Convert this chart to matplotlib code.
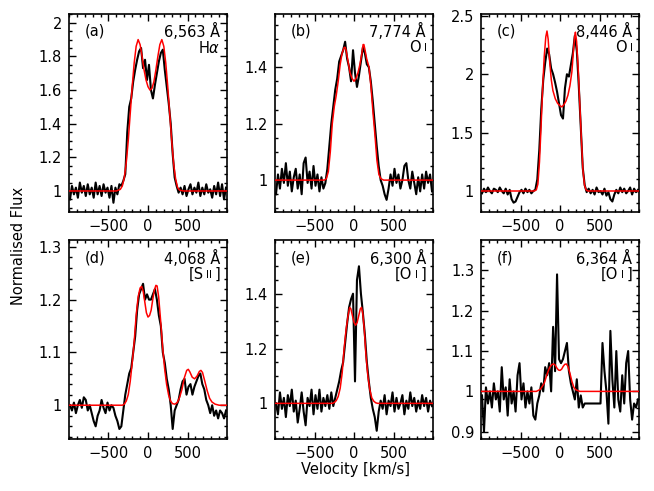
import numpy as np
import matplotlib
matplotlib.use('Agg')
import matplotlib.pyplot as plt
from matplotlib.ticker import MultipleLocator, FuncFormatter
from matplotlib.offsetbox import AnchoredOffsetbox, HPacker, TextArea

# velocity of the observed spectral points (km/s)
vel = np.arange(-987.5, 1000, 25)

# observed spectra (normalised flux), one value per point
obs_a = [0.95, 1.03, 0.98, 1.02, 0.96, 1.05, 0.99, 1.03, 0.97, 1.04,
         0.98, 1.02, 0.96, 1.05, 0.98, 1.03, 0.97, 1.04, 0.99, 1.02,
         0.96, 1.03, 0.93, 1.02, 0.98, 1.04, 1.03, 1.06, 1.10, 1.35,
         1.50, 1.55, 1.65, 1.72, 1.78, 1.83, 1.85, 1.73, 1.78, 1.66,
         1.75, 1.60, 1.55, 1.63, 1.70, 1.77, 1.82, 1.84, 1.72, 1.62,
         1.52, 1.40, 1.22, 1.08, 1.03, 0.99, 1.02, 0.98, 1.03, 0.97,
         1.01, 1.04, 0.98, 1.02, 0.99, 1.05, 0.97, 1.02, 0.98, 1.04,
         0.99, 1.01, 0.96, 1.03, 0.98, 1.05, 0.97, 1.04, 0.95, 1.02]
obs_b = [0.95, 1.02, 0.97, 1.04, 0.99, 1.06, 0.98, 1.03, 0.96, 1.01,
         1.04, 0.97, 1.02, 0.95, 1.06, 1.08, 0.99, 1.03, 0.97, 1.05,
         0.98, 1.02, 0.96, 1.01, 0.97, 0.99, 1.04, 1.12, 1.20, 1.26,
         1.32, 1.36, 1.42, 1.44, 1.46, 1.49, 1.43, 1.40, 1.35, 1.46,
         1.38, 1.33, 1.37, 1.42, 1.47, 1.45, 1.41, 1.40, 1.35, 1.28,
         1.20, 1.12, 1.05, 1.00, 0.98, 0.95, 0.93, 0.97, 1.02, 0.98,
         1.04, 0.99, 1.02, 0.97, 1.00, 1.05, 1.06, 1.00, 0.97, 1.03,
         0.99, 0.95, 1.01, 0.96, 1.02, 0.97, 1.03, 0.99, 1.02, 0.96]
obs_c = [0.98, 1.02, 0.99, 1.03, 1.00, 0.98, 1.02, 1.01, 0.99, 1.03,
         1.00, 0.98, 1.02, 0.97, 1.01, 0.93, 0.90, 0.91, 0.95, 0.99,
         1.01, 0.98, 1.02, 0.99, 1.01, 0.98, 1.00, 1.01, 1.10, 1.35,
         1.70, 1.95, 2.10, 2.22, 2.17, 2.05, 2.00, 1.93, 1.85, 1.75,
         1.65, 1.62, 1.88, 2.00, 1.98, 2.08, 2.18, 2.33, 2.20, 1.90,
         1.55, 1.20, 1.05, 0.99, 1.02, 0.98, 1.01, 0.97, 1.03, 0.99,
         1.00, 0.97, 1.02, 0.96, 0.99, 0.93, 0.91, 0.97, 1.01, 0.98,
         1.03, 0.99, 1.02, 0.98, 1.00, 1.03, 0.97, 1.02, 0.99, 1.01]
obs_d = [1.000, 0.990, 1.005, 0.985, 1.000, 1.010, 0.995, 1.015, 1.010, 0.990,
         1.000, 0.985, 0.970, 0.960, 0.980, 0.990, 1.010, 0.995, 0.985, 1.005,
         0.990, 1.000, 0.995, 0.980, 0.970, 0.955, 0.960, 0.990, 1.020, 1.040,
         1.060, 1.070, 1.100, 1.130, 1.180, 1.210, 1.220, 1.230, 1.200, 1.210,
         1.200, 1.200, 1.210, 1.220, 1.200, 1.170, 1.150, 1.100, 1.080, 1.050,
         1.030, 1.000, 0.955, 0.990, 1.000, 1.010, 1.030, 1.045, 1.050, 1.020,
         1.035, 1.040, 1.020, 1.035, 1.045, 1.055, 1.060, 1.040, 1.030, 1.010,
         1.000, 0.985, 1.000, 0.980, 0.990, 0.975, 0.990, 0.985, 0.975, 0.990]
obs_e = [1.00, 0.96, 1.04, 0.98, 1.02, 0.95, 1.03, 0.99, 1.05, 0.97,
         1.01, 0.93, 0.98, 1.04, 0.97, 0.92, 1.02, 0.99, 1.05, 0.96,
         1.03, 0.98, 1.05, 0.97, 1.02, 0.99, 1.03, 0.98, 1.04, 0.99,
         1.02, 1.05, 1.08, 1.12, 1.15, 1.22, 1.29, 1.35, 1.38, 1.40,
         1.08, 1.45, 1.50, 1.40, 1.33, 1.25, 1.15, 1.08, 1.02, 0.98,
         0.95, 0.90, 0.97, 1.01, 0.98, 1.03, 0.96, 1.01, 0.99, 1.04,
         0.97, 1.02, 0.98, 1.00, 1.03, 0.96, 1.01, 0.98, 1.04, 0.99,
         1.02, 0.97, 1.01, 0.98, 1.03, 0.99, 1.02, 0.97, 1.01, 0.99]
obs_f = [0.99, 0.90, 1.01, 0.97, 1.00, 0.96, 1.02, 0.98, 1.00, 0.95,
         1.06, 0.98, 1.01, 0.94, 1.03, 0.97, 1.00, 0.95, 1.04, 1.07,
         0.98, 1.02, 0.96, 1.00, 0.97, 1.01, 0.94, 0.93, 0.97, 0.99,
         1.02, 1.00, 1.06, 1.04, 1.07, 1.00, 1.16, 1.05, 1.29, 1.08,
         1.07, 1.08, 1.10, 1.12, 1.05, 1.02, 1.00, 0.98, 1.03, 0.96,
         0.99, 0.96, 0.97, 0.97, 0.97, 0.97, 0.97, 0.97, 0.97, 0.97,
         0.97, 1.12, 1.05, 1.00, 0.92, 1.15, 1.03, 0.96, 1.10, 0.98,
         0.95, 1.04, 0.97, 1.07, 1.10, 0.98, 0.93, 0.97, 0.96, 0.98]

# model fits (velocity, flux)
fit_va = [-1000, -400, -350, -325, -300, -275, -250, -225, -200, -175, -150, -125, -100,
          -75, -50, -25, 0, 25, 50, 75, 100, 125, 150, 175, 200, 225, 250, 275, 300,
          325, 350, 375, 400, 450, 1000]
fit_fa = [1.0, 1.0, 1.01, 1.03, 1.08, 1.17, 1.30, 1.46, 1.62, 1.76, 1.86, 1.90, 1.87,
          1.80, 1.72, 1.66, 1.62, 1.60, 1.61, 1.65, 1.72, 1.80, 1.87, 1.90, 1.86, 1.76,
          1.62, 1.46, 1.30, 1.16, 1.07, 1.02, 1.005, 1.0, 1.0]
fit_vb = [-1000, -375, -350, -325, -300, -275, -250, -225, -200, -175, -150, -125, -110,
          -100, -75, -50, -25, 0, 25, 50, 75, 100, 115, 125, 140, 160, 190, 215, 240,
          265, 290, 315, 340, 375, 1000]
fit_fb = [1.0, 1.0, 1.005, 1.03, 1.10, 1.20, 1.26, 1.30, 1.35, 1.41, 1.45, 1.47, 1.47,
          1.46, 1.42, 1.38, 1.36, 1.35, 1.36, 1.38, 1.41, 1.45, 1.48, 1.48, 1.46, 1.43,
          1.40, 1.33, 1.24, 1.16, 1.07, 1.02, 1.005, 1.0, 1.0]
fit_vc = [-1000, -325, -300, -280, -260, -240, -220, -200, -180, -165, -150, -130, -110,
          -90, -60, -30, 0, 25, 50, 75, 100, 125, 150, 170, 185, 195, 210, 230, 250,
          270, 290, 310, 330, 350, 1000]
fit_fc = [1.0, 1.0, 1.01, 1.06, 1.25, 1.55, 1.88, 2.15, 2.32, 2.37, 2.30, 2.10, 1.95,
          1.86, 1.79, 1.75, 1.73, 1.72, 1.74, 1.77, 1.82, 1.90, 2.02, 2.20, 2.32, 2.36,
          2.28, 2.05, 1.75, 1.45, 1.18, 1.05, 1.01, 1.0, 1.0]
fit_vd = [-1000, -325, -300, -275, -250, -225, -200, -175, -150, -125, -100, -80, -60,
          -40, -20, 0, 20, 40, 60, 80, 100, 115, 135, 160, 185, 210, 235, 260, 285,
          310, 340, 370, 400, 430, 460, 490, 510, 530, 560, 590, 620, 650, 670, 690,
          720, 750, 780, 810, 850, 900, 1000]
fit_fd = [1.0, 1.0, 1.002, 1.008, 1.02, 1.045, 1.08, 1.12, 1.17, 1.205, 1.222, 1.225,
          1.215, 1.195, 1.175, 1.167, 1.17, 1.18, 1.20, 1.218, 1.227, 1.226, 1.205,
          1.16, 1.11, 1.07, 1.04, 1.02, 1.008, 1.003, 1.002, 1.005, 1.015, 1.03, 1.052,
          1.066, 1.068, 1.063, 1.053, 1.05, 1.055, 1.064, 1.066, 1.062, 1.045, 1.027,
          1.013, 1.006, 1.002, 1.0, 1.0]
fit_ve = [-1000, -275, -250, -225, -200, -175, -150, -125, -100, -75, -55, -40, -20, 0,
          20, 40, 60, 80, 95, 110, 130, 150, 175, 200, 225, 250, 275, 300, 1000]
fit_fe = [1.0, 1.0, 1.003, 1.01, 1.025, 1.055, 1.11, 1.20, 1.27, 1.32, 1.35, 1.345,
          1.32, 1.295, 1.285, 1.295, 1.32, 1.345, 1.35, 1.33, 1.27, 1.18, 1.10, 1.05,
          1.02, 1.008, 1.002, 1.0, 1.0]
fit_vf = [-1000, -300, -250, -200, -160, -130, -100, -80, -60, -40, -20, 0, 20, 40, 60,
          80, 100, 125, 150, 175, 200, 250, 1000]
fit_ff = [1.0, 1.0, 1.005, 1.02, 1.045, 1.06, 1.067, 1.068, 1.065, 1.058, 1.053, 1.052,
          1.055, 1.062, 1.067, 1.068, 1.062, 1.045, 1.025, 1.01, 1.004, 1.0, 1.0]

tags = ['(a)', '(b)', '(c)', '(d)', '(e)', '(f)']
waves = ['6,563 Å', '7,774 Å', '8,446 Å', '4,068 Å', '6,300 Å', '6,364 Å']
ions = [[(r'H$\alpha$', 10.5)],
        [('O', 10.5), ('I', 7.5)],
        [('O', 10.5), ('I', 7.5)],
        [('[S', 10.5), ('II', 7.5), (']', 10.5)],
        [('[O', 10.5), ('I', 7.5), (']', 10.5)],
        [('[O', 10.5), ('I', 7.5), (']', 10.5)]]
ylims = [(0.875, 2.055), (0.887, 1.59), (0.82, 2.52),
         (0.936, 1.312), (0.87, 1.594), (0.882, 1.374)]
ymajor = [0.2, 0.2, 0.5, 0.1, 0.2, 0.1]
yminor = [0.05, 0.05, 0.1, 0.02, 0.05, 0.02]

obs = [obs_a, obs_b, obs_c, obs_d, obs_e, obs_f]
fits = [(fit_va, fit_fa), (fit_vb, fit_fb), (fit_vc, fit_fc),
        (fit_vd, fit_fd), (fit_ve, fit_fe), (fit_vf, fit_ff)]

plt.rcParams['font.family'] = 'DejaVu Sans'
fig = plt.figure(figsize=(6.54, 4.91), dpi=100)

lefts = [0.1055, 0.4205, 0.7355]
bottoms = [0.5682, 0.1059]
w, h = 0.2416, 0.4043

for k in range(6):
    ax = fig.add_axes([lefts[k % 3], bottoms[k // 3], w, h])
    ax.plot(vel, obs[k], color='black', lw=1.5, zorder=2)
    ax.plot(fits[k][0], fits[k][1], color='#ff0000', lw=1.1, zorder=3)
    ax.set_xlim(-1000, 1000)
    ax.set_ylim(*ylims[k])
    ax.set_xticks([-500, 0, 500])
    ax.xaxis.set_minor_locator(MultipleLocator(100))
    ax.yaxis.set_major_locator(MultipleLocator(ymajor[k]))
    ax.yaxis.set_minor_locator(MultipleLocator(yminor[k]))
    ax.yaxis.set_major_formatter(FuncFormatter(lambda v, p: f'{v:g}'))
    ax.tick_params(which='both', direction='in', top=True, right=True,
                   labelsize=10.5, width=1.0)
    ax.tick_params(which='major', length=5, pad=5)
    ax.tick_params(which='minor', length=2.5)
    for s in ax.spines.values():
        s.set_linewidth(1.2)
    ax.text(0.1, 0.91, tags[k], transform=ax.transAxes, fontsize=10.5,
            ha='left', va='center')
    ax.text(0.955, 0.91, waves[k], transform=ax.transAxes, fontsize=10.5,
            ha='right', va='center')
    boxes = [TextArea(t, textprops=dict(fontsize=s)) for t, s in ions[k]]
    pack = HPacker(children=boxes, align='center', pad=0, sep=2)
    ab = AnchoredOffsetbox(loc='upper right', child=pack, pad=0, borderpad=0,
                           frameon=False, bbox_to_anchor=(0.96, 0.865),
                           bbox_transform=ax.transAxes)
    ax.add_artist(ab)

fig.text(0.028, 0.5, 'Normalised Flux', rotation=90, fontsize=10.5,
         ha='center', va='center')
fig.text(0.543, 0.044, 'Velocity [km/s]', fontsize=10.5, ha='center', va='center')

fig.savefig('out.png', dpi=100)
